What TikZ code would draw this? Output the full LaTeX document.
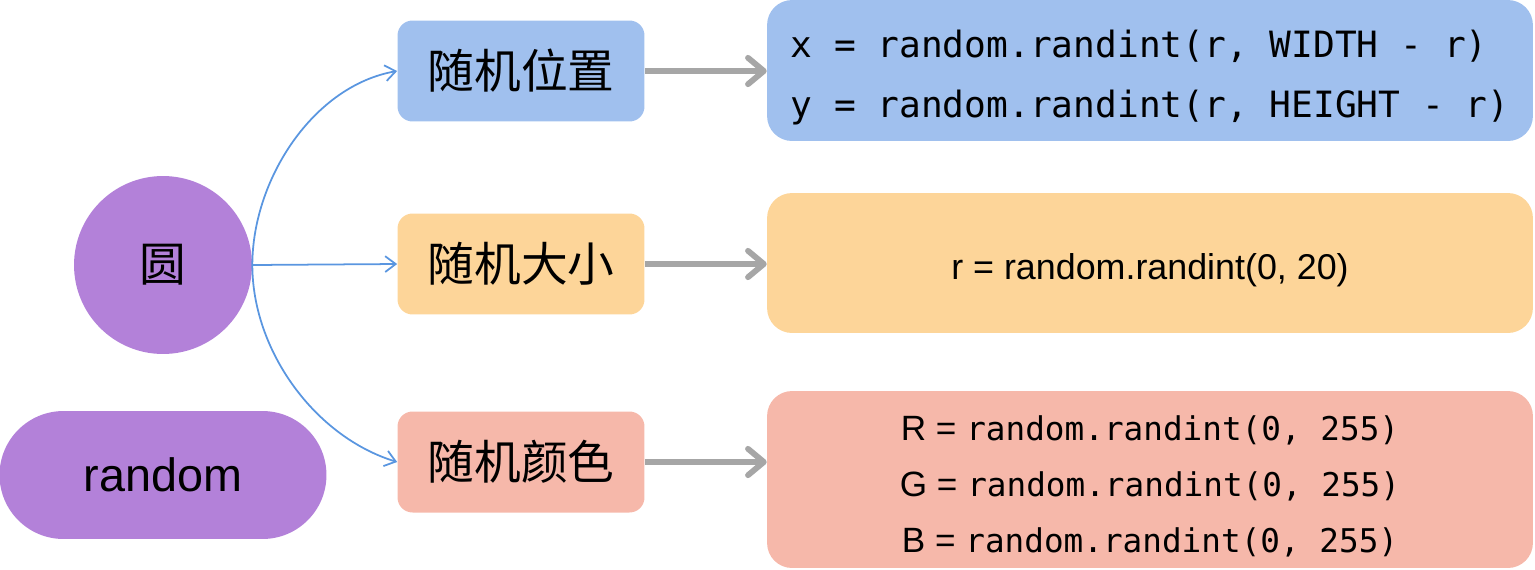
\documentclass[tikz,border=0pt]{standalone}
\usepackage{fontspec}
\setmainfont{Liberation Sans}
\newfontfamily\cjkfont{Noto Sans CJK SC}
\newfontfamily\codefont{DejaVu Sans Mono}
\usetikzlibrary{arrows.meta,shapes.misc}

\definecolor{purplefill}{RGB}{179,129,217}
\definecolor{bluefill}{RGB}{160,192,238}
\definecolor{orangefill}{RGB}{253,213,153}
\definecolor{redfill}{RGB}{246,184,170}
\definecolor{linkblue}{RGB}{90,150,224}
\definecolor{arrowgray}{RGB}{166,166,166}

\newcommand{\randline}[1]{#1 = {\codefont\fontsize{18.6pt}{32pt}\selectfont random.randint(0, 255)}}

\tikzset{
  topic/.style={circle,fill=purplefill,minimum size=3.56cm,inner sep=0pt,
    font=\cjkfont\fontsize{26.6pt}{30pt}\selectfont},
  pill/.style={rounded rectangle,fill=purplefill,minimum width=6.54cm,
    minimum height=2.56cm,inner sep=0pt,font=\fontsize{26.6pt}{30pt}\selectfont},
  tag/.style={rounded corners=0.3cm,minimum width=4.94cm,minimum height=2.02cm,
    inner sep=0pt,font=\cjkfont\fontsize{26.6pt}{30pt}\selectfont},
  codebox/.style={rounded corners=0.5cm,minimum width=15.32cm,inner sep=0pt},
  codetext/.style={inner sep=0pt,yshift=-0.14cm},
  link/.style={linkblue,line width=1pt,-{Straight Barb[length=6pt,width=9pt]}},
  flow/.style={arrowgray,line width=3.3pt,-{Straight Barb[length=9pt,width=15pt,round]}}
}

\begin{document}
\begin{tikzpicture}[x=0.02cm,y=0.02cm]
  \useasboundingbox (0,0) rectangle (1535,-569);

  % left side
  \node[topic] (yuan) at (163,-265) {圆};
  \node[pill] (rand) at (163,-475) {random};

  % middle column
  \node[tag,fill=bluefill] (pos) at (521,-71) {随机位置};
  \node[tag,fill=orangefill] (size) at (521,-264) {随机大小};
  \node[tag,fill=redfill] (color) at (521,-462) {随机颜色};

  % code column
  \node[codebox,fill=bluefill,minimum height=2.82cm] (poscode) at (1150,-70.5) {};
  \node[codebox,fill=orangefill,minimum height=2.8cm] (sizecode) at (1150,-263) {};
  \node[codebox,fill=redfill,minimum height=3.54cm] (colorcode) at (1150,-479.5) {};

  \node[codetext,align=left,font=\codefont\fontsize{20.6pt}{34pt}\selectfont]
    (postext) at (poscode.center)
    {x = random.randint(r, WIDTH - r)\\y = random.randint(r, HEIGHT - r)};
  \node[codetext,font=\fontsize{20.4pt}{24pt}\selectfont]
    (sizetext) at (sizecode.center) {r = random.randint(0, 20)};
  \node[codetext,align=center,font=\fontsize{20pt}{32pt}\selectfont]
    (colortext) at (colorcode.center)
    {\randline{R}\\\randline{G}\\\randline{B}};

  % connectors
  \draw[link] (yuan.east) to[out=90,in=190,looseness=0.9] (pos.west);
  \draw[link] (yuan.east) -- (size.west);
  \draw[link] (yuan.east) to[out=-90,in=163,looseness=0.9] (color.west);

  \draw[flow] (pos.east) -- (pos.east -| poscode.west);
  \draw[flow] (size.east) -- (size.east -| sizecode.west);
  \draw[flow] (color.east) -- (color.east -| colorcode.west);
\end{tikzpicture}
\end{document}
